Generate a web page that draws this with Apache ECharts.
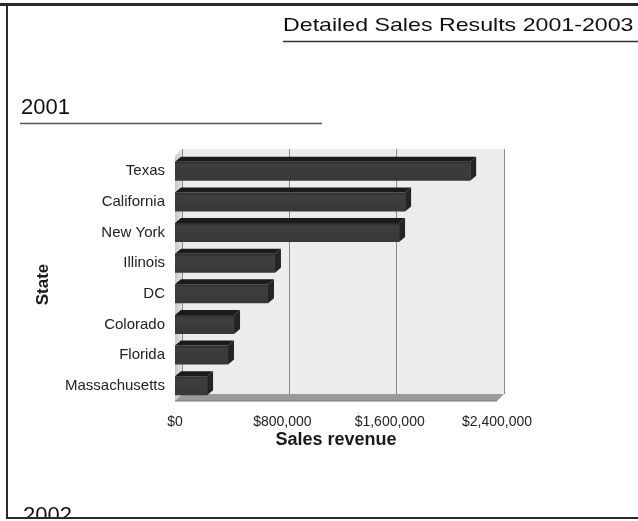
<!DOCTYPE html>
<html>
<head>
<meta charset="utf-8">
<script src="https://cdn.jsdelivr.net/npm/echarts@6/dist/echarts.min.js"></script>
<style>
html,body{margin:0;padding:0;background:#fff;}
#c{width:638px;height:521px;}
</style>
</head>
<body>
<div id="c"></div>
<script>
const states = ['Texas', 'California', 'New York', 'Illinois', 'DC', 'Colorado', 'Florida', 'Massachusetts'];
const revenue2001 = [2200000, 1715000, 1670000, 745000, 693000, 440000, 395000, 239000];
const xTicks = [0, 800000, 1600000, 2400000];
const pageTitle = 'Detailed Sales Results 2001-2003';
const sectionTitles = ['2001', '2002'];

const FONT = "'Liberation Sans', Arial, sans-serif";
const DX = 7, DY = 7;

const chart = echarts.init(document.getElementById('c'), null, {renderer: 'canvas'});

function fmtMoney(v) {
  return '$' + Math.round(v).toString().replace(/\B(?=(\d{3})+(?!\d))/g, ',');
}

function renderBar(params, api) {
  const cat = api.value(0), v = api.value(1);
  const p0 = api.coord([0, cat]);
  const p1 = api.coord([v, cat]);
  const band = api.size([0, 1])[1];
  const h = band * 0.62;
  const x0 = p0[0], x1 = p1[0], y = p0[1] - h / 2;
  const dx = 6, dy = 5;
  return {
    type: 'group',
    children: [
      {type: 'polygon', shape: {points: [[x0, y], [x0 + dx, y - dy], [x1 + dx, y - dy], [x1, y]]},
        style: {fill: '#1b1b1b'}},
      {type: 'polygon', shape: {points: [[x1, y], [x1 + dx, y - dy], [x1 + dx, y + h - dy], [x1, y + h]]},
        style: {fill: '#242424'}},
      {type: 'rect', shape: {x: x0, y: y, width: x1 - x0, height: h},
        style: {fill: new echarts.graphic.LinearGradient(0, 0, 0, 1, [
          {offset: 0, color: '#2a2a2a'}, {offset: 0.15, color: '#3e3e3e'}, {offset: 1, color: '#383838'}])}}
    ]
  };
}

function renderWalls(params) {
  const cs = params.coordSys;
  const x = cs.x, y = cs.y, w = cs.width, h = cs.height;
  return {
    type: 'group',
    children: [
      {type: 'polygon', shape: {points: [[x, y], [x + DX, y - DY], [x + DX, y + h - DY], [x, y + h]]},
        style: {fill: new echarts.graphic.LinearGradient(0, 0, 1, 0, [
          {offset: 0, color: '#c8c8c8'}, {offset: 1, color: '#e2e2e2'}])}},
      {type: 'polygon', shape: {points: [[x, y + h], [x + DX, y + h - DY], [x + w + DX, y + h - DY], [x + w, y + h]]},
        style: {fill: '#9a9a9a'}},
      {type: 'line', shape: {x1: x, y1: y + h, x2: x + w, y2: y + h},
        style: {stroke: '#7a7a7a', lineWidth: 1}}
    ]
  };
}

chart.setOption({
  animation: false,
  backgroundColor: '#ffffff',
  grid: [
    {left: 175, top: 156, width: 322, height: 245, containLabel: false},
    {left: 175 + DX, top: 156 - DY, width: 322, height: 245, show: true,
      backgroundColor: '#ececec', borderWidth: 0, containLabel: false}
  ],
  xAxis: [
    {
      type: 'value', gridIndex: 0, min: 0, max: 2400000, interval: 800000,
      name: 'Sales revenue', nameLocation: 'middle', nameGap: 30,
      nameTextStyle: {fontFamily: FONT, fontSize: 18, fontWeight: 'bold', color: '#1a1a1a'},
      axisLine: {show: false},
      axisTick: {show: false},
      splitLine: {show: false},
      axisLabel: {margin: 14, fontFamily: FONT, fontSize: 14, color: '#222',
        formatter: function (v) { return xTicks.indexOf(v) >= 0 ? fmtMoney(v) : ''; }}
    },
    {
      type: 'value', gridIndex: 1, min: 0, max: 2400000, interval: 800000,
      axisLine: {show: false}, axisTick: {show: false}, axisLabel: {show: false},
      splitLine: {show: true, lineStyle: {color: '#8a8a8a', width: 1}}
    }
  ],
  yAxis: [
    {
      type: 'category', gridIndex: 0, data: states, inverse: true,
      name: 'State', nameLocation: 'middle', nameRotate: 90, nameGap: 123,
      nameTextStyle: {fontFamily: FONT, fontSize: 17, fontWeight: 'bold', color: '#1a1a1a', padding: [0, 0, 0, -12]},
      axisLine: {show: false}, axisTick: {show: false},
      axisLabel: {margin: 10, fontFamily: FONT, fontSize: 15, color: '#222'}
    },
    {
      type: 'category', gridIndex: 1, data: states, inverse: true,
      axisLine: {show: false}, axisTick: {show: false}, axisLabel: {show: false}, splitLine: {show: false}
    }
  ],
  series: [
    {
      type: 'custom', name: 'walls', xAxisIndex: 0, yAxisIndex: 0, z: 1,
      data: [[states[0], 0]], encode: {x: 1, y: 0},
      renderItem: renderWalls, silent: true
    },
    {
      type: 'custom', name: 'Sales revenue 2001', xAxisIndex: 0, yAxisIndex: 0, z: 3,
      data: states.map(function (s, i) { return [s, revenue2001[i]]; }),
      encode: {x: 1, y: 0},
      renderItem: renderBar
    }
  ],
  graphic: [
    {type: 'rect', left: 0, top: 3, shape: {width: 638, height: 3}, style: {fill: '#2a2a2a'}, z: 100},
    {type: 'rect', left: 6, top: 3, shape: {width: 2, height: 516}, style: {fill: '#2a2a2a'}, z: 100},
    {type: 'text', x: 283, y: 26, scaleX: 1.22, z: 100,
      style: {text: pageTitle, font: '19px ' + FONT, fill: '#111', textVerticalAlign: 'middle'}},
    {type: 'line', shape: {x1: 283, y1: 41.5, x2: 638, y2: 41.5}, style: {stroke: '#333', lineWidth: 1.5}, z: 100},
    {type: 'text', x: 21, y: 108, z: 100,
      style: {text: sectionTitles[0], font: '22px ' + FONT, fill: '#111', textVerticalAlign: 'middle'}},
    {type: 'line', shape: {x1: 20, y1: 123.5, x2: 322, y2: 123.5}, style: {stroke: '#555', lineWidth: 1.5}, z: 100},
    {type: 'text', x: 23, y: 516, z: 100,
      style: {text: sectionTitles[1], font: '22px ' + FONT, fill: '#111', textVerticalAlign: 'middle'}},
    {type: 'rect', left: 0, top: 519, shape: {width: 638, height: 2}, style: {fill: '#ffffff'}, z: 101},
    {type: 'rect', left: 6, top: 517, shape: {width: 632, height: 2}, style: {fill: '#2a2a2a'}, z: 102}
  ]
});
</script>
</body>
</html>
